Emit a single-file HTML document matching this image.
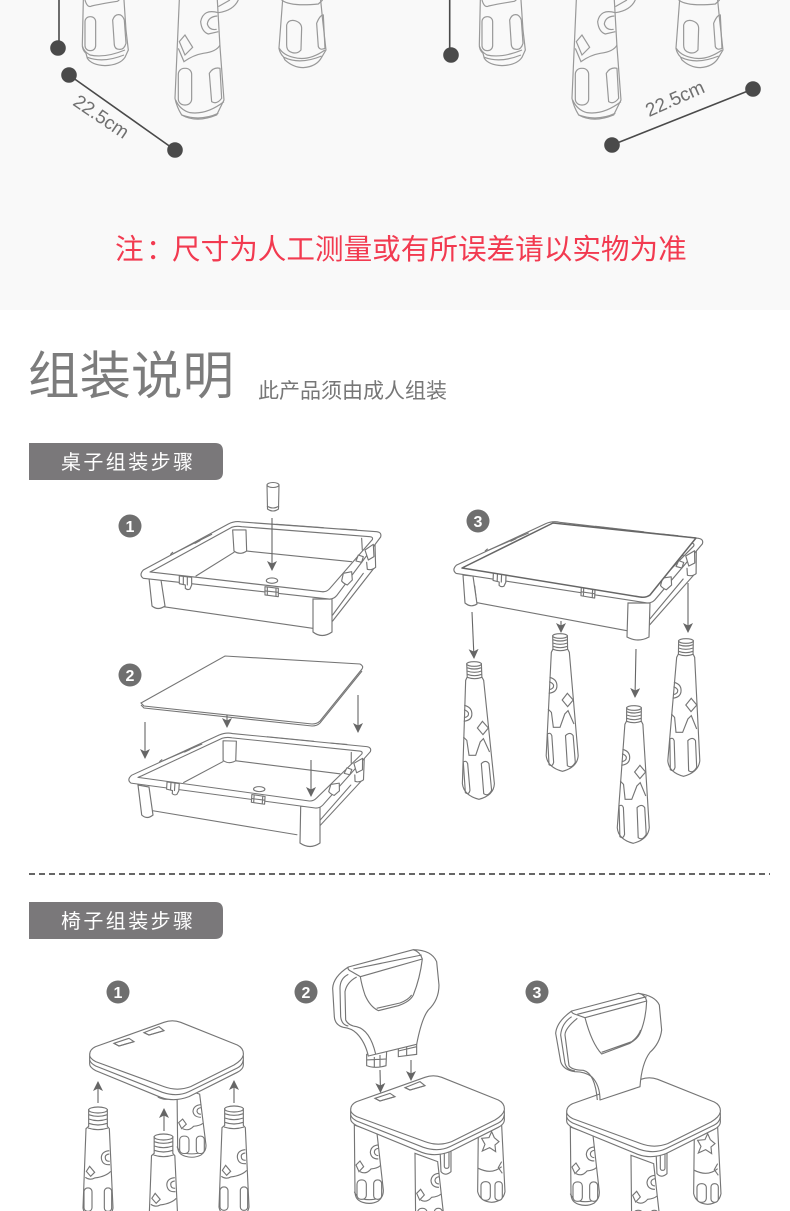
<!DOCTYPE html>
<html lang="zh"><head><meta charset="utf-8"><style>
html,body{margin:0;padding:0;background:#fff}
svg{display:block}
text{font-family:"Liberation Sans","Noto Sans CJK SC",sans-serif}
</style></head><body>
<svg width="790" height="1211" viewBox="0 0 790 1211" xmlns="http://www.w3.org/2000/svg">
<defs>
<marker id="ah" viewBox="0 0 10 10" refX="9" refY="5" markerWidth="10" markerHeight="10" markerUnits="userSpaceOnUse" orient="auto"><path d="M0 0L10 5L0 10L2.5 5Z" fill="#666"/></marker>

<!-- table frame: interior -->
<g id="fback" stroke-linejoin="round" stroke-linecap="round">
<path d="M258 303L372 232M408 228L725 260" fill="none"/>
<path d="M368 165L372 228Q390 242 410 228L408 165Z" fill="#fff"/>
<path d="M755 190L757 225M795 205L797 277Q785 287 772 283L770 262" fill="none"/>
<path d="M160 395L608 460M155 345L162 392M668 438L790 282M668 420L760 295" fill="none"/>
<ellipse cx="486" cy="317" rx="17" ry="8" fill="#fff"/>
</g>
<!-- table frame: rim -->
<g id="frim" stroke-linejoin="round" stroke-linecap="round">
<path fill="#fff" fill-rule="evenodd" d="M100 285L355 147Q375 137 395 141L800 170Q816 172 812 186L680 362Q670 374 655 372L100 310Q86 300 100 285ZM132 285L120 291L636 350Q650 352 660 340L787 194Q790 186 780 185L395 155Q378 152 365 157Z"/>
<path d="M190 236L305 178M188 232L182 238M255 205L270 197M500 148L640 158M690 162L740 165" fill="none"/>
<path d="M208 303L245 307L245 330L240 342Q232 346 226 340L226 330L208 326Z" fill="#fff"/>
<path d="M220 305L220 328M232 306L232 330" fill="none"/>
<path d="M465 335L505 340L505 365L465 360Z" fill="#fff"/>
<path d="M472 336L472 360M498 339L498 364M465 348L505 352" fill="none"/>
<path d="M700 295L725 290L727 315L712 330Q700 325 695 318Z" fill="#fff"/>
<path d="M738 258L745 240L760 245L755 262ZM765 225L790 208L792 245L775 255Z" fill="#fff"/>
</g>

<!-- table leg (3x coordinates, origin top centre) -->
<g id="leg" fill="#fff">
<path d="M-22 6L-22 45L-27 55L-48 365Q-45 400 0 412Q45 400 48 365L27 55L22 45L22 6Z"/>
<ellipse cx="0" cy="6" rx="22" ry="7"/>
<path fill="none" d="M-22 17Q0 25 22 17M-22 27Q0 35 22 27M-22 37Q0 45 22 37M-22 46Q0 54 22 46"/>
<path fill="none" d="M19 178L36 198L19 218L3 198Z"/>
<path fill="none" d="M-34 130Q-12 135 -12 155Q-12 175 -37 178M-35 143Q-22 148 -22 155Q-22 165 -36 167"/>
<path fill="none" d="M-40 225L-30 235L-25 280L-5 280L10 240L20 230L37 270"/>
<path fill="none" d="M-43 300Q-34 294 -30 305L-26 385Q-30 400 -40 392ZM11 305Q25 292 34 305L39 385Q28 405 15 395Z"/>
</g>

<!-- chair seat -->
<g id="seat" stroke-linejoin="round" fill="#fff">
<path d="M197 498L197 522Q197 532 215 542L410 622Q450 637 495 620L640 547Q660 537 658 522L658 498Z"/>
<path fill="none" d="M197 510Q200 520 215 528L415 607Q460 622 495 605L640 534Q655 527 658 510"/>
<path d="M197 495Q197 478 215 470L420 397Q445 388 470 397L640 465Q660 475 658 495Q655 510 630 525L500 590Q460 605 420 590L215 515Q197 505 197 495Z"/>
</g>
<g id="slots" fill="#fff"><path d="M270 460L315 445L330 455L285 468ZM360 428L405 410L420 422L375 435Z"/><path fill="none" d="M270 460L285 468L330 455M360 428L375 435L420 422"/></g>

<!-- chair legs under the seat -->
<g id="sleg" fill="#fff">
<path d="M0 0L2 200Q2 225 25 232Q50 240 72 228Q88 215 87 195L68 25Z"/>
<path fill="none" d="M0 200Q5 215 25 222Q50 228 80 218"/>
<path fill="none" d="M17 140Q35 150 50 132Q70 130 78 122"/>
<path fill="none" d="M72 60Q50 62 48 82Q50 102 72 102M72 70Q60 72 60 82Q62 92 72 92"/>
<path fill="none" d="M5 120L17 108L28 125L14 140Z"/>
<rect x="8" y="165" width="28" height="58" rx="12"/><rect x="58" y="165" width="24" height="58" rx="11"/>
</g>
<!-- right chair leg with star; coordinates of chair-2 crop -->
<g id="rleg" fill="#fff">
<path d="M580 560L578 740Q585 770 620 772Q655 770 660 740L650 540Z"/>
<path fill="none" d="M590 580L612 578L620 560L628 578L642 590L630 600L632 620L614 608L592 618L600 598Z"/>
<path fill="none" d="M580 670Q620 690 650 665M650 650L640 668L652 685"/>
<rect x="588" y="710" width="28" height="56" rx="12"/><rect x="630" y="710" width="22" height="56" rx="10"/>
</g>
<g id="bleg" fill="#fff"><path d="M465 610L468 680Q480 695 498 680L498 605Z"/><rect x="478" y="612" width="14" height="58" rx="6"/></g>

<!-- chair 1 legs -->
<g id="uleg" fill="#fff">
<path d="M-28 5L-28 55L-36 62L-45 300Q-40 330 0 335Q40 330 45 300L34 62L28 55L28 5Z"/>
<ellipse cx="0" cy="6" rx="28" ry="9"/>
<path fill="none" d="M-28 20Q0 30 28 20M-28 33Q0 43 28 33M-28 46Q0 56 28 46M-30 60Q0 70 30 60"/>
<path fill="none" d="M34 128Q10 130 10 150Q12 172 36 170M34 138Q20 140 22 150Q22 160 35 160"/>
<path fill="none" d="M-25 175L-10 193L-22 205L-35 190Z"/>
<path fill="none" d="M-38 208Q-25 218 -10 210Q25 205 38 190"/>
<rect x="-42" y="240" width="24" height="70" rx="11"/><rect x="19" y="240" width="22" height="70" rx="10"/>
</g>

<!-- backrest chair 2 -->
<g id="back" stroke-linejoin="round">
<path fill="#fff" d="M190 66L385 14Q440 15 455 50L462 120Q462 165 430 195Q410 220 395 298L250 333Q240 290 215 265Q200 250 175 247Q150 240 148 215L143 130Q145 95 190 66Z"/>
<path fill="none" d="M190 66Q186 74 200 80L226 95M205 72L410 30M385 14Q405 20 412 42"/>
<path fill="none" d="M190 88Q165 100 165 130L167 215Q170 240 190 243M215 96Q185 112 180 140L182 225Q190 242 215 245Q255 255 272 327"/>
<path fill="none" d="M226 95L412 42Q405 100 385 150Q375 170 340 182L280 197Q255 185 240 150Q230 120 226 95ZM275 190L345 174Q370 165 380 150"/>
</g>
<!-- backrest chair 3, coordinates of chair-3 crop -->
<g id="back3" stroke-linejoin="round">
<path fill="#fff" d="M155 108L355 55Q405 62 418 90L425 165Q420 205 390 232Q365 265 360 335L240 375Q240 330 215 305Q195 290 165 290Q130 285 122 260L107 175Q110 140 155 108Z"/>
<path fill="none" d="M155 108Q153 115 172 120L195 128M172 118L380 65M355 55Q375 58 380 78"/>
<path fill="none" d="M155 125Q125 145 122 180L135 265Q140 285 165 288M172 130Q135 160 135 180L147 272Q155 285 190 286Q225 295 232 375"/>
<path fill="none" d="M195 128L380 78Q378 130 362 170Q355 190 330 205L245 237Q215 205 195 128ZM245 232L335 200Q355 185 362 165"/>
</g>

<!-- small legs for top strip -->
<g id="topA">
<path d="M250 0L247 135Q247 150 258 160L262 175Q275 195 315 197Q360 195 375 172L385 150L378 90L372 0"/>
<path d="M247 138Q252 155 270 165Q315 175 375 150M262 172Q310 190 372 165"/>
<rect x="255" y="50" width="32" height="102" rx="15"/>
<path d="M338 60Q345 40 362 45Q370 50 373 60L378 130Q372 150 358 148Q345 148 343 135Z"/>
<path d="M255 0Q262 25 275 18Q300 12 352 4L358 0"/>
</g>
<g id="topB">
<path d="M538 0L525 295Q530 320 545 345Q590 370 650 345L672 300L660 140L652 0"/>
<path d="M527 300Q540 330 570 338Q620 345 672 305M545 345Q600 365 655 340"/>
<path d="M538 125L555 105L578 142L555 165Z"/>
<path d="M535 145L552 185Q580 165 610 160Q650 155 660 135"/>
<rect x="535" y="205" width="40" height="110" rx="18"/>
<path d="M628 220Q640 200 660 205L665 295Q650 315 635 305Z"/>
<path d="M655 38Q610 25 602 65Q605 95 625 102L655 95M652 48Q625 50 622 72Q628 92 650 88"/>
<path d="M655 38Q700 32 715 0M690 0L655 20"/>
</g>
<g id="topC">
<path d="M848 0L837 145Q840 160 850 170L855 180Q880 203 910 203Q950 200 965 172L978 150L968 60L962 0"/>
<path d="M838 145Q850 165 880 172Q925 185 975 150M852 172Q900 195 965 168"/>
<path d="M860 75Q865 58 885 62Q905 68 905 85L903 150Q890 165 870 155Q860 150 860 135Z"/>
<path d="M950 70Q960 45 970 45L975 145Q960 152 955 140Z"/>
<path d="M845 0Q870 20 955 12L968 0"/>
</g>
</defs>

<rect width="790" height="1211" fill="#fff"/>
<rect width="790" height="310" fill="#f9f9f9"/>

<!-- top strip -->
<g stroke="#999" fill="none">
<g transform="scale(.3333)" stroke-width="3.6"><use href="#topA"/><use href="#topB"/><use href="#topC"/></g>
<g transform="translate(397 0) scale(.3333)" stroke-width="3.6"><use href="#topA"/><use href="#topB"/><use href="#topC"/></g>
</g>
<g stroke="#4a4a4a" stroke-width="1.6" fill="#4a4a4a">
<path d="M59 0V48M69 75L175 150M449.7 0V55M612 145L753 89" fill="none"/>
<circle cx="58" cy="48" r="7"/><circle cx="69" cy="75" r="7"/><circle cx="175" cy="150" r="7"/>
<circle cx="451" cy="55" r="7"/><circle cx="612" cy="145" r="7"/><circle cx="753" cy="89" r="7"/>
</g>
<text x="101" y="123" font-size="19" fill="#707070" text-anchor="middle" transform="rotate(34 101 117)">22.5cm</text>
<text x="675" y="105" font-size="19" fill="#707070" text-anchor="middle" transform="rotate(-24 675 99)">22.5cm</text>

<text x="115" y="259" font-size="28.6" fill="#f23a50">注</text>
<text x="146" y="259" font-size="28.6" fill="#f23a50">&#xFF1A;</text>
<text x="172" y="259" font-size="28.6" fill="#f23a50">尺寸为人工测量或有所误差请以实物为准</text>

<text x="28" y="394" font-size="51.5" fill="#7c7c7c">组装说明</text>
<text x="258" y="398" font-size="21" fill="#777">此产品须由成人组装</text>

<path d="M29 443H215Q223 443 223 451V472Q223 480 215 480H29Z" fill="#7a787a"/>
<text x="61" y="469" font-size="20" letter-spacing="2.4" fill="#fff">桌子组装步骤</text>
<path d="M29 902H215Q223 902 223 910V931Q223 939 215 939H29Z" fill="#7a787a"/>
<text x="61" y="928" font-size="20" letter-spacing="2.4" fill="#fff">椅子组装步骤</text>

<path d="M29 874H770" stroke="#666" stroke-width="2" stroke-dasharray="6 4"/>

<!-- number badges -->
<g fill="#6f6f6f"><circle cx="130" cy="526" r="11.5"/><circle cx="130" cy="675" r="11.5"/><circle cx="478" cy="521" r="11.5"/><circle cx="118" cy="992" r="11.5"/><circle cx="306" cy="992" r="11.5"/><circle cx="537" cy="992" r="11.5"/></g>
<g fill="#fff" font-size="16" font-weight="bold" text-anchor="middle">
<text x="130" y="532">1</text><text x="130" y="681">2</text><text x="478" y="527">3</text><text x="118" y="998">1</text><text x="306" y="998">2</text><text x="537" y="998">3</text>
</g>

<g stroke="#757575" fill="none">
<!-- step 1 -->
<g transform="translate(110 475) scale(.3333)" stroke-width="3.4"><use href="#fback"/></g>
<path d="M149 578L152 606Q158 611 165 606L161 580Z M313 599L313 632Q322 639 332 632L332 599Z" fill="#fff" stroke-width="1.15"/>
<g transform="translate(110 475) scale(.3333)" stroke-width="3.4"><use href="#frim"/></g>
<path d="M267 485L267.5 509Q273 513 278.5 509L279 485Z" fill="#fff" stroke-width="1.1"/>
<ellipse cx="273" cy="485" rx="6" ry="2.5" fill="#fff" stroke-width="1.1"/>
<path d="M267 506Q273 510 279 506" stroke-width="1.1"/>

<!-- step 2 -->
<g transform="matrix(.998 .03 -.061 .932 23.2 239.8) translate(110 475) scale(.3333)" stroke-width="3.4"><use href="#fback"/></g>
<path d="M138 785L141.7 815Q147 820 153 815L149 787Z M300.7 806L300 843Q310 850 320 843L320 807Z" fill="#fff" stroke-width="1.15"/>
<g transform="matrix(.998 .03 -.061 .932 23.2 239.8) translate(110 475) scale(.3333)" stroke-width="3.4"><use href="#frim"/></g>
<path d="M141 703L225 656L360 664Q364 666 362 669L320 721Q317 724 312 724L144 706Z" fill="#fff" stroke-width="1.1"/>
<path d="M141 705L144 708L312 726Q317 726 320 723L362 671" stroke-width="1.1"/>

<!-- step 3 -->
<g transform="matrix(1.031 .048 -.037 .991 329.8 -6.6) translate(110 475) scale(.3333)" stroke-width="3.4"><use href="#fback"/></g>
<path d="M463 575L465 603Q471 608 477 604L473 576Z M628 603L627 637Q638 643 649 637L650 603Z" fill="#fff" stroke-width="1.15"/>
<g transform="matrix(1.031 .048 -.037 .991 329.8 -6.6) translate(110 475) scale(.3333)" stroke-width="3.4"><use href="#frim"/></g>
<path d="M462 568L553 523L696 538L650 595Q646 598 640 597Z" fill="#fff" stroke="#666" stroke-width="1.5" stroke-linejoin="round"/>

<g stroke-width="3.4">
<use href="#leg" transform="matrix(.3333 0 .012 .3333 474 662)"/>
<use href="#leg" transform="matrix(.3333 0 .006 .3333 560 634)"/>
<use href="#leg" transform="matrix(.3333 0 -.002 .3333 634 706)"/>
<use href="#leg" transform="matrix(.3333 0 -.006 .3333 686 639)"/>
</g>

<!-- chair 1 -->
<g transform="translate(24 890) scale(.3333)" stroke-width="3.4">
<use href="#sleg" transform="translate(459 590) scale(1 .9)"/>
<path d="M400 610L403 622Q425 634 450 622L450 610Z" fill="#fff"/>
<use href="#seat"/><use href="#slots"/>
</g>
<g stroke-width="3.4">
<use href="#uleg" transform="translate(98 1108) scale(.3333)"/>
<use href="#uleg" transform="translate(163.5 1135) scale(.3333)"/>
<use href="#uleg" transform="translate(234 1107) scale(.3333)"/>
</g>

<!-- chair 2 -->
<g transform="translate(285 945) scale(.3333)" stroke-width="3.4">
<use href="#sleg" transform="translate(208 540)"/>
<use href="#bleg"/>
<use href="#rleg"/>
<use href="#sleg" transform="translate(390 625)"/>
<use href="#seat"/><use href="#slots"/>
<path d="M245 328L245 362Q270 372 303 362L305 318ZM268 336L268 366M285 330L285 366M245 345L305 342M340 305L340 335L395 328L395 292ZM365 300L365 333M395 305L340 318" fill="#fff"/>
<use href="#back"/>
</g>

<!-- chair 3 -->
<g transform="translate(501 947) scale(.3333)" stroke-width="3.4">
<use href="#sleg" transform="translate(208 540)"/>
<use href="#bleg"/>
<use href="#rleg"/>
<use href="#sleg" transform="translate(390 625)"/>
<use href="#seat"/>
</g>
<g transform="translate(520 975) scale(.3333)" stroke-width="3.4"><use href="#back3"/></g>
</g>

<!-- arrows -->
<g stroke="#666" stroke-width="1.1" fill="none">
<path d="M272 518V570" marker-end="url(#ah)"/>
<path d="M145 722V758" marker-end="url(#ah)"/>
<path d="M227 715V727" marker-end="url(#ah)"/>
<path d="M358 695V732" marker-end="url(#ah)"/>
<path d="M311 760V796" marker-end="url(#ah)"/>
<path d="M472 612L474 658" marker-end="url(#ah)"/>
<path d="M561 621V632" marker-end="url(#ah)"/>
<path d="M636 649L635 697" marker-end="url(#ah)"/>
<path d="M688 583V632" marker-end="url(#ah)"/>
<path d="M98 1103V1082" marker-end="url(#ah)"/>
<path d="M164 1131V1109" marker-end="url(#ah)"/>
<path d="M234 1103V1081" marker-end="url(#ah)"/>
<path d="M380 1070L380.5 1092" marker-end="url(#ah)"/>
<path d="M411 1060V1080" marker-end="url(#ah)"/>
</g>
</svg>
</body></html>
